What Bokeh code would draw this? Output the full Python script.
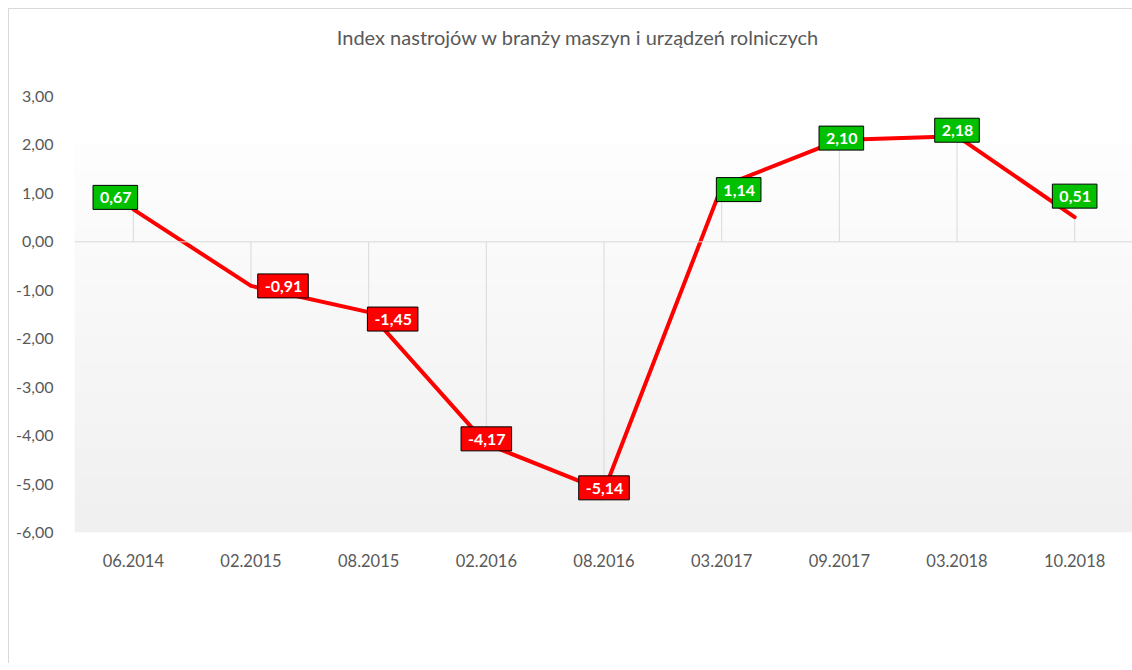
import numpy as np
from bokeh.plotting import figure
from bokeh.layouts import column
from bokeh.models import (FactorRange, Range1d, Span, ColumnDataSource, Div,
                          CustomJSTickFormatter, FixedTicker)
from bokeh.core.properties import value
from bokeh.embed import file_html
from bokeh.resources import INLINE

# ---- data ----
title_text = "Index nastrojów w branży maszyn i urządzeń rolniczych"
categories = ["06.2014", "02.2015", "08.2015", "02.2016", "08.2016",
              "03.2017", "09.2017", "03.2018", "10.2018"]
values = [0.67, -0.91, -1.45, -4.17, -5.14, 1.14, 2.10, 2.18, 0.51]
y_ticks = [-6, -5, -4, -3, -2, -1, 0, 1, 2, 3]

# label placement (screen pixels relative to the point, +y = down)
label_dx = [-18, 32, 24, 0, 0, 17, 2, 0, 0]
label_dy = [-12, 0, 7, -5, -3, 3, -2, -6, -21]

FONT = "Lato"
GREY = "#595959"

W = 1124
TITLE_H = 60
H = 654 - TITLE_H
ML, MT, MB = 65, 27, 131

title_div = Div(
    text=(f'<div style="box-sizing:border-box;width:{W}px;padding-top:16px;'
          f'padding-left:13px;text-align:center;'
          f'font-family:{FONT};font-size:20px;line-height:24px;color:{GREY};'
          f'white-space:nowrap;">{title_text}</div>'),
    width=W, height=TITLE_H, margin=0)

p = figure(width=W, height=H, x_range=FactorRange(*categories),
           y_range=Range1d(-6, 3), output_backend="svg", toolbar_location=None,
           min_border_left=ML, min_border_right=0, min_border_top=MT,
           min_border_bottom=MB, outline_line_color=None,
           background_fill_color="white", border_fill_color="white")
p.margin = 0

# background gradient (white above 2, fading to light grey at -6)
n = 200
top = np.array([254, 254, 254], dtype=float)
bot = np.array([240, 240, 240], dtype=float)
img = np.zeros((n, 1), dtype=np.uint32)
view = img.view(dtype=np.uint8).reshape((n, 1, 4))
for i in range(n):
    t = i / (n - 1)  # 0 at bottom row
    c = bot + (top - bot) * t
    view[i, 0, 0:3] = c.astype(np.uint8)
    view[i, 0, 3] = 255
p.image_rgba(image=[img], x=0, y=-6, dw=len(categories), dh=8)

# zero line
p.add_layout(Span(location=0, dimension="width", line_color="#d9d9d9", line_width=1))

# drop lines
p.segment(x0=categories, y0=[0] * len(values), x1=categories, y1=values,
          line_color="#d9d9d9", line_width=1)

# main line
p.line(categories, values, line_color="#ff0000", line_width=4,
       line_join="round", line_cap="round")

# labels
src = ColumnDataSource(dict(
    x=categories, y=values,
    text=[f"{v:.2f}".replace(".", ",") for v in values],
    fill=["#00c000" if v >= 0 else "#ff0000" for v in values],
    dx=label_dx, dy=label_dy,
))
p.text(x="x", y="y", text="text", x_offset="dx", y_offset="dy", source=src,
       text_align="center", text_baseline="middle", text_color="white",
       text_font=value(FONT), text_font_style="bold", text_font_size="16px",
       background_fill_color="fill", border_line_color="black",
       border_line_width=1, padding=(7, 6, 7, 6))

# axes
p.xgrid.visible = False
p.ygrid.visible = False
p.yaxis.ticker = FixedTicker(ticks=y_ticks)
p.yaxis.formatter = CustomJSTickFormatter(code="return tick.toFixed(2).replace('.', ',');")
for ax in (p.xaxis[0], p.yaxis[0]):
    ax.axis_line_color = None
    ax.major_tick_line_color = None
    ax.minor_tick_line_color = None
    ax.major_label_text_color = GREY
    ax.major_label_text_font = FONT
p.yaxis.major_label_text_font_size = "16px"
p.xaxis.major_label_text_font_size = "16.5px"
p.yaxis.major_label_standoff = 15
p.xaxis.major_label_standoff = 15

layout = column(title_div, p, spacing=0)
layout.margin = (8, 0, 0, 8)
layout.styles = {"border-left": "1px solid #d9d9d9", "border-top": "1px solid #d9d9d9",
                 "background-color": "white"}

open("out.html", "w").write(file_html(layout, INLINE))
